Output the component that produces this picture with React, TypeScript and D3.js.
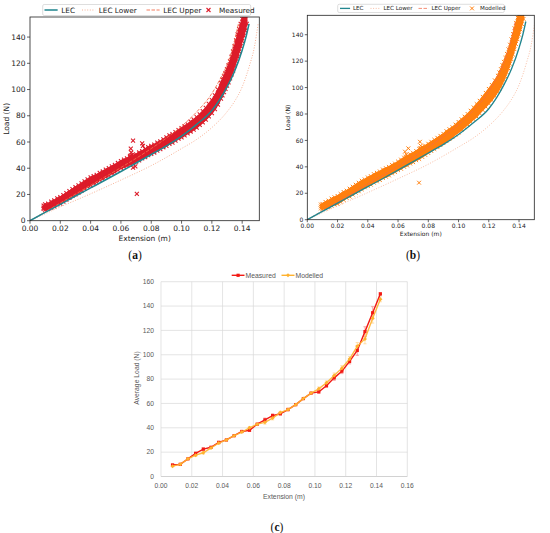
import React from "react";
import * as d3 from "d3";

// ---------- Data: panels (a) & (b) ----------
const lecCurve: [number, number][] = [
  [0, 0], [0.01, 6.3], [0.02, 12.5], [0.03, 18.8], [0.04, 25], [0.05, 31.2], [0.06, 37.5],
  [0.07, 44], [0.08, 50.5], [0.09, 57], [0.1, 64.5], [0.11, 73.5], [0.12, 84], [0.125, 92],
  [0.13, 102], [0.135, 114], [0.14, 130], [0.1425, 140], [0.1445, 150],
];
const lecLower: [number, number][] = [
  [0, 0], [0.02, 10.5], [0.04, 20.5], [0.06, 31], [0.08, 42], [0.1, 55], [0.11, 62], [0.12, 71],
  [0.13, 83], [0.135, 91], [0.14, 102], [0.145, 119], [0.148, 132], [0.1505, 150],
];
const lecUpper: [number, number][] = [
  [0, 0], [0.02, 13.5], [0.04, 27], [0.06, 40.5], [0.08, 55], [0.09, 63], [0.1, 72], [0.11, 83],
  [0.12, 97], [0.125, 107], [0.13, 119], [0.133, 129], [0.1355, 140], [0.1375, 150],
];

// rows: [extension, load values observed at that extension...]
const measuredRows: number[][] = [
  [0.009, 9, 10, 11.5], [0.01, 8.5, 10.5, 12.5], [0.012, 9, 11, 13], [0.014, 10, 12, 14.5],
  [0.016, 11, 13.5, 15.5], [0.018, 12.5, 14.5, 17], [0.02, 13, 15.5, 18], [0.022, 14.5, 17, 19.5],
  [0.024, 16, 18.5, 21], [0.026, 17.5, 20, 22.5], [0.028, 19, 21.5, 24], [0.03, 20, 23, 25.5],
  [0.032, 21.5, 24.5, 27], [0.034, 23, 26, 28.5], [0.036, 24.5, 27.5, 30], [0.038, 26, 29, 31.5],
  [0.04, 27, 30, 33], [0.042, 28.5, 31.5, 34], [0.044, 29.5, 32.5, 35], [0.046, 31, 34, 36.5],
  [0.048, 32, 35, 37.5], [0.05, 33.5, 36.5, 39], [0.052, 34.5, 37.5, 40], [0.054, 36, 39, 41.5],
  [0.056, 37, 40, 42.5], [0.058, 38.5, 41.5, 44], [0.06, 40, 43, 45.5], [0.062, 41, 44, 46.5],
  [0.064, 42, 45, 47.5], [0.066, 43, 46, 48.5], [0.068, 44, 47, 49.5], [0.07, 45, 48, 50.5],
  [0.072, 46, 49, 52], [0.074, 47.5, 50.5, 53], [0.076, 48.5, 51.5, 54.5], [0.078, 50, 53, 56],
  [0.08, 51, 54, 57], [0.082, 52, 55, 58], [0.084, 53.5, 56.5, 59.5], [0.086, 54.5, 57.5, 60.5],
  [0.088, 56, 59, 62], [0.09, 57, 60, 63.5], [0.092, 58.5, 61.5, 65], [0.094, 59.5, 62.5, 66],
  [0.096, 61, 64, 67.5], [0.098, 62.5, 65.5, 69], [0.1, 63.5, 67, 70.5], [0.102, 65, 68.5, 72],
  [0.104, 66.5, 70, 73.5], [0.106, 68, 71.5, 75.5], [0.108, 69.5, 73, 77], [0.11, 71, 75, 79],
  [0.112, 73, 77, 81], [0.114, 75, 79, 83.5], [0.116, 77, 81, 86], [0.118, 79.5, 84, 89],
  [0.12, 82, 87, 92], [0.122, 85, 90, 95.5], [0.124, 88.5, 94, 100], [0.126, 93, 99, 105],
  [0.127, 95.5, 101.5, 107.5], [0.128, 98, 104, 110], [0.129, 100.5, 106.5, 112.5], [0.13, 103, 109, 115.5],
  [0.131, 105.5, 112, 118.5], [0.132, 108.5, 115, 121.5], [0.133, 111.5, 118, 125], [0.134, 114.5, 121.5, 129],
  [0.135, 118, 125.5, 133], [0.136, 121.5, 129.5, 137.5], [0.137, 125, 133.5, 142], [0.138, 129, 137.5, 146],
  [0.139, 133, 141.5, 150], [0.14, 137, 145.5, 154], [0.141, 141, 149.5, 158], [0.142, 145, 153.5, 162],
  [0.143, 150, 157, 163],
];
const measuredOutliers: [number, number][] = [
  [0.0665, 55], [0.0668, 52], [0.0672, 50], [0.068, 61], [0.0675, 48.5], [0.068, 40.5],
  [0.0695, 41.5], [0.074, 59], [0.0745, 57], [0.0705, 20.5], [0.066, 49.5],
];

const modelledRows: number[][] = [
  [0.009, 8.5, 10, 11.5], [0.01, 8, 10, 12], [0.012, 8.5, 11, 13.5], [0.014, 9.5, 12, 14.5],
  [0.016, 10.5, 13, 16], [0.018, 11.5, 14, 17], [0.02, 12, 14.5, 18], [0.022, 13.5, 16.5, 19.5],
  [0.024, 15, 18, 21], [0.026, 16.5, 19.5, 22], [0.028, 17.5, 20.5, 23.5], [0.03, 19, 22, 25],
  [0.032, 20.5, 23.5, 26.5], [0.034, 21.5, 25, 28], [0.036, 23, 26, 29.5], [0.038, 24.5, 27.5, 30.5],
  [0.04, 25.5, 29, 32], [0.042, 26.5, 30, 33], [0.044, 28, 31, 34.5], [0.046, 29, 32.5, 35.5],
  [0.048, 30, 33.5, 36.5], [0.05, 31.5, 35, 38], [0.052, 32.5, 36, 39], [0.054, 33.5, 37, 40],
  [0.056, 35, 38.5, 41.5], [0.058, 36, 39.5, 42.5], [0.06, 37.5, 41, 44], [0.062, 38.5, 42, 45.5],
  [0.064, 40, 43.5, 47], [0.066, 41, 44.5, 48], [0.068, 42.5, 46, 49.5], [0.07, 43.5, 47, 50.5],
  [0.072, 45, 48.5, 52], [0.074, 46, 49.5, 53.5], [0.076, 47.5, 51, 55], [0.078, 49, 52.5, 56],
  [0.08, 50.5, 54, 57.5], [0.082, 52, 55.5, 59], [0.084, 53.5, 57, 60.5], [0.086, 55, 58.5, 62],
  [0.088, 56.5, 60, 63.5], [0.09, 58, 61.5, 65], [0.092, 59.5, 63, 67], [0.094, 61, 64.5, 68.5],
  [0.096, 62.5, 66.5, 70], [0.098, 64.5, 68, 72], [0.1, 66, 70, 74], [0.102, 68, 72, 76],
  [0.104, 70, 74, 78], [0.106, 72, 76, 80], [0.108, 74, 78, 82.5], [0.11, 76, 80, 85],
  [0.112, 78, 82.5, 87.5], [0.114, 80.5, 85, 90], [0.116, 83, 87.5, 93], [0.118, 85.5, 90, 96],
  [0.12, 88, 93, 99], [0.122, 90.5, 96, 102], [0.124, 93.5, 99, 105.5], [0.126, 97, 103, 109],
  [0.127, 99, 105, 111.5], [0.128, 101, 107.5, 114], [0.129, 103.5, 110, 117], [0.13, 106, 112.5, 119.5],
  [0.131, 108.5, 115, 122.5], [0.132, 111.5, 118, 125.5], [0.133, 114.5, 121.5, 129], [0.134, 118, 125, 132.5],
  [0.135, 121.5, 129, 136.5], [0.136, 125, 133, 140.5], [0.137, 129, 137, 145], [0.138, 133, 141, 149],
  [0.139, 136.5, 144.5, 153], [0.14, 140, 148, 157], [0.141, 144, 152, 160], [0.142, 148, 156, 162],
  [0.143, 152, 159, 163],
];
const modelledOutliers: [number, number][] = [
  [0.0646, 51.5], [0.0668, 54], [0.065, 47.5], [0.0655, 49.5], [0.0745, 59], [0.075, 56],
  [0.0748, 54], [0.0739, 28],
];

const xTicksAB = [0, 0.02, 0.04, 0.06, 0.08, 0.1, 0.12, 0.14];
const yTicksAB = [0, 20, 40, 60, 80, 100, 120, 140];

// ---------- Data: panel (c) ----------
const avgExtension = [
  0.0075, 0.0125, 0.0175, 0.0225, 0.0275, 0.0325, 0.0375, 0.0425, 0.0475, 0.0525, 0.0575, 0.0625,
  0.0675, 0.0725, 0.0775, 0.0825, 0.0875, 0.0925, 0.0975, 0.1025, 0.1075, 0.1125, 0.1175, 0.1225,
  0.1275, 0.1325, 0.1375, 0.1425,
];
const avgMeasured = [
  9.5, 10, 14.5, 19, 22.5, 24, 28, 30, 33.5, 37, 38, 43, 46.5, 50, 51.5, 55, 59, 64, 68.5, 69.5,
  74.5, 81, 86.5, 94.5, 103.5, 119, 134.5, 150,
];
const avgModelled = [
  8.5, 10, 14.5, 17.5, 19.5, 23.5, 27.5, 30, 33.5, 36.5, 40, 43, 44.5, 48, 52.5, 55, 59, 64, 68.5,
  72, 77, 83, 89, 96.5, 107, 113, 130, 145.5,
];
const errMeasured = [
  0.5, 0.5, 0.5, 1, 1, 0.5, 1, 0.5, 0.5, 0.5, 1, 0.5, 1.5, 1.5, 1, 1, 0.5, 0.5, 0.5, 1, 1, 2, 2,
  2, 4, 4, 5, 1,
];
const errModelled = [
  0.5, 0.5, 0.5, 1, 1, 0.5, 1, 0.5, 0.5, 0.5, 1, 0.5, 1.5, 1.5, 1, 1, 0.5, 0.5, 0.5, 1.5, 1.5, 2,
  2, 2, 3, 4, 4, 2,
];
const xTicksC = [0, 0.02, 0.04, 0.06, 0.08, 0.1, 0.12, 0.14, 0.16];
const yTicksC = [0, 20, 40, 60, 80, 100, 120, 140, 160];

// ---------- Styles ----------
const C_LEC = "#22868f";
const C_LOWER = "#f6a98a";
const C_UPPER = "#f26b4a";

type Cfg = {
  id: string;
  left: number; right: number; top: number; bottom: number;
  xMax: number; yMax: number;
  tickFont: number; labelFont: number; tickLen: number;
  xLabY: number; yLabX: number; tickLabelDy: number; tickLabelDx: number;
  legend: { x0: number; x1: number; y0: number; y1: number; font: number; items: number[] };
  ms: number; mw: number; lw: number;
  panelLabel: string; panelX: number; panelY: number;
};

const xPath = (s: number) => `M${-s},${-s}L${s},${s}M${-s},${s}L${s},${-s}`;

function Panel({ cfg, rows, outliers, color, scatterLabel }: {
  cfg: Cfg; rows: number[][]; outliers: [number, number][]; color: string; scatterLabel: string;
}) {
  const x = d3.scaleLinear().domain([0, cfg.xMax]).range([cfg.left, cfg.right]);
  const y = d3.scaleLinear().domain([0, cfg.yMax]).range([cfg.bottom, cfg.top]);
  const line = d3.line<[number, number]>().x((d) => x(d[0])).y((d) => y(d[1])).curve(d3.curveMonotoneX);
  const band = d3.area<number[]>()
    .x((r) => x(r[0]))
    .y0((r) => y(Math.min(...r.slice(1))))
    .y1((r) => y(Math.max(...r.slice(1))));
  const pts: [number, number][] = [];
  rows.forEach((r) => r.slice(1).forEach((v) => pts.push([r[0], v])));
  outliers.forEach((p) => pts.push(p));
  const font = "DejaVu Sans, sans-serif";
  const L = cfg.legend;
  const ly = (L.y0 + L.y1) / 2;
  const [i1, i2, i3, i4] = L.items;
  return (
    <g>
      <defs>
        <clipPath id={`clip-${cfg.id}`}>
          <rect x={cfg.left} y={cfg.top} width={cfg.right - cfg.left} height={cfg.bottom - cfg.top} />
        </clipPath>
      </defs>
      <g clipPath={`url(#clip-${cfg.id})`}>
        <path d={band(rows) || ""} fill={color} stroke={color} strokeWidth={1.5} strokeLinejoin="round" />
        {pts.map((p, i) => (
          <path key={i} d={xPath(cfg.ms)} transform={`translate(${x(p[0])},${y(p[1])})`}
            stroke={color} strokeWidth={cfg.mw} fill="none" />
        ))}
        <path d={line(lecLower) || ""} fill="none" stroke={C_LOWER} strokeWidth={cfg.lw * 0.8} strokeDasharray="1,1.6" />
        <path d={line(lecUpper) || ""} fill="none" stroke={C_UPPER} strokeWidth={cfg.lw * 0.8} strokeDasharray="3.5,1.5" />
        <path d={line(lecCurve) || ""} fill="none" stroke={C_LEC} strokeWidth={cfg.lw * 1.4} />
      </g>
      <rect x={cfg.left} y={cfg.top} width={cfg.right - cfg.left} height={cfg.bottom - cfg.top}
        fill="none" stroke="#222" strokeWidth={0.8} />
      {xTicksAB.map((t) => (
        <g key={t}>
          <line x1={x(t)} x2={x(t)} y1={cfg.bottom} y2={cfg.bottom + cfg.tickLen} stroke="#222" strokeWidth={0.7} />
          <text x={x(t)} y={cfg.bottom + cfg.tickLabelDy} fontSize={cfg.tickFont} fontFamily={font}
            textAnchor="middle" fill="#222">{t.toFixed(2)}</text>
        </g>
      ))}
      {yTicksAB.map((t) => (
        <g key={t}>
          <line x1={cfg.left - cfg.tickLen} x2={cfg.left} y1={y(t)} y2={y(t)} stroke="#222" strokeWidth={0.7} />
          <text x={cfg.left - cfg.tickLabelDx} y={y(t)} dy="0.35em" fontSize={cfg.tickFont} fontFamily={font}
            textAnchor="end" fill="#222">{t}</text>
        </g>
      ))}
      <text x={(cfg.left + cfg.right) / 2} y={cfg.xLabY} fontSize={cfg.labelFont} fontFamily={font}
        textAnchor="middle" fill="#222">Extension (m)</text>
      <text transform={`translate(${cfg.yLabX},${(cfg.top + cfg.bottom) / 2}) rotate(-90)`} fontSize={cfg.labelFont}
        fontFamily={font} textAnchor="middle" fill="#222">Load (N)</text>
      {/* legend */}
      <rect x={L.x0} y={L.y0} width={L.x1 - L.x0} height={L.y1 - L.y0} rx={1.5} fill="#fff" fillOpacity={0.9}
        stroke="#d0d0d0" strokeWidth={0.7} />
      <line x1={i1} x2={i1 + L.font * 1.8} y1={ly} y2={ly} stroke={C_LEC} strokeWidth={cfg.lw * 1.4} />
      <text x={i1 + L.font * 2.3} y={ly} dy="0.35em" fontSize={L.font} fontFamily={font} fill="#222">LEC</text>
      <line x1={i2} x2={i2 + L.font * 1.8} y1={ly} y2={ly} stroke={C_LOWER} strokeWidth={cfg.lw * 0.8} strokeDasharray="1,1.6" />
      <text x={i2 + L.font * 2.3} y={ly} dy="0.35em" fontSize={L.font} fontFamily={font} fill="#222">LEC Lower</text>
      <line x1={i3} x2={i3 + L.font * 1.8} y1={ly} y2={ly} stroke={C_UPPER} strokeWidth={cfg.lw * 0.8} strokeDasharray="3.5,1.5" />
      <text x={i3 + L.font * 2.3} y={ly} dy="0.35em" fontSize={L.font} fontFamily={font} fill="#222">LEC Upper</text>
      <path d={xPath(cfg.ms)} transform={`translate(${i4},${ly})`} stroke={color} strokeWidth={cfg.mw} fill="none" />
      <text x={i4 + L.font * 1.45} y={ly} dy="0.35em" fontSize={L.font} fontFamily={font} fill="#222">{scatterLabel}</text>
      <text x={cfg.panelX} y={cfg.panelY} fontSize={11.5} fontFamily="Liberation Serif, serif" textAnchor="middle" fill="#111">
        (<tspan fontWeight="bold">{cfg.panelLabel}</tspan>)
      </text>
    </g>
  );
}

const cfgA: Cfg = {
  id: "a", left: 30, right: 259.3, top: 17, bottom: 220.7, xMax: 0.1513, yMax: 155.3,
  tickFont: 7.5, labelFont: 7.5, tickLen: 3, xLabY: 241, yLabX: 8.5, tickLabelDy: 10.3, tickLabelDx: 4.5,
  legend: { x0: 42.7, x1: 250.7, y0: 4.5, y1: 15.5, font: 7.3, items: [44.5, 82, 146.5, 208.5] },
  ms: 2.0, mw: 1.1, lw: 1.1,
  panelLabel: "a", panelX: 135, panelY: 259,
};
const cfgB: Cfg = {
  id: "b", left: 307.3, right: 534.3, top: 15.3, bottom: 219.7, xMax: 0.1501, yMax: 154.7,
  tickFont: 6, labelFont: 6, tickLen: 2.5, xLabY: 235.5, yLabX: 289.8, tickLabelDy: 8.6, tickLabelDx: 4,
  legend: { x0: 337.7, x1: 504.3, y0: 4.3, y1: 12.5, font: 5.6, items: [340, 370.5, 418.5, 472] },
  ms: 1.9, mw: 1.0, lw: 0.95,
  panelLabel: "b", panelX: 413, panelY: 259,
};

function PanelC() {
  const x = d3.scaleLinear().domain([0, 0.16]).range([161, 407.3]);
  const y = d3.scaleLinear().domain([0, 160]).range([476.5, 281.7]);
  const font = "Liberation Sans, Arial, sans-serif";
  const gray = "#595959";
  const line = d3.line<number>().x((_, i) => x(avgExtension[i])).y((d) => y(d));
  const cMeas = "#f21a14";
  const cMod = "#ffb22e";
  const errBars = (vals: number[], errs: number[], col: string, key: string) =>
    vals.map((v, i) => {
      const cx = x(avgExtension[i]);
      const e = errs[i];
      return (
        <g key={key + i} stroke={col} strokeWidth={0.7}>
          <line x1={cx} x2={cx} y1={y(v - e)} y2={y(v + e)} />
          <line x1={cx - 1.6} x2={cx + 1.6} y1={y(v - e)} y2={y(v - e)} />
          <line x1={cx - 1.6} x2={cx + 1.6} y1={y(v + e)} y2={y(v + e)} />
        </g>
      );
    });
  const diamond = (cx: number, cy: number, s: number) => `M${cx},${cy - s}L${cx + s},${cy}L${cx},${cy + s}L${cx - s},${cy}Z`;
  return (
    <g>
      {yTicksC.map((t) => (
        <g key={"gy" + t}>
          <line x1={x(0)} x2={x(0.16)} y1={y(t)} y2={y(t)} stroke={t === 0 ? "#bfbfbf" : "#d9d9d9"} strokeWidth={0.7} />
          <text x={x(0) - 7} y={y(t)} dy="0.35em" fontSize={6.7} fontFamily={font} fill={gray} textAnchor="end">{t}</text>
        </g>
      ))}
      {xTicksC.map((t) => (
        <g key={"gx" + t}>
          <line x1={x(t)} x2={x(t)} y1={y(0)} y2={y(160)} stroke="#d9d9d9" strokeWidth={0.7} />
          <text x={x(t)} y={487.8} fontSize={6.7} fontFamily={font} fill={gray} textAnchor="middle">{t.toFixed(2)}</text>
        </g>
      ))}
      <text x={284} y={498.8} fontSize={6.8} fontFamily={font} fill={gray} textAnchor="middle">Extension (m)</text>
      <text transform={`translate(138.5,378) rotate(-90)`} fontSize={6.8} fontFamily={font} fill={gray} textAnchor="middle">
        Average Load (N)
      </text>
      {errBars(avgMeasured, errMeasured, "#f58a8a", "em")}
      {errBars(avgModelled, errModelled, "#ffd28a", "eo")}
      <path d={line(avgMeasured) || ""} fill="none" stroke={cMeas} strokeWidth={1.4} />
      {avgMeasured.map((v, i) => (
        <rect key={"m" + i} x={x(avgExtension[i]) - 1.6} y={y(v) - 1.6} width={3.2} height={3.2} fill={cMeas} />
      ))}
      <path d={line(avgModelled) || ""} fill="none" stroke={cMod} strokeWidth={1.4} strokeOpacity={0.9} />
      {avgModelled.map((v, i) => (
        <path key={"o" + i} d={diamond(x(avgExtension[i]), y(v), 2)} fill={cMod} />
      ))}
      {/* legend */}
      <line x1={231.7} x2={244.5} y1={275.3} y2={275.3} stroke={cMeas} strokeWidth={1.4} />
      <rect x={236.5} y={273.7} width={3.2} height={3.2} fill={cMeas} />
      <text x={245.5} y={275.3} dy="0.35em" fontSize={6.8} fontFamily={font} fill={gray}>Measured</text>
      <line x1={281.5} x2={294.5} y1={275.3} y2={275.3} stroke={cMod} strokeWidth={1.4} />
      <path d={diamond(288, 275.3, 2)} fill={cMod} />
      <text x={295.5} y={275.3} dy="0.35em" fontSize={6.8} fontFamily={font} fill={gray}>Modelled</text>
      <text x={277} y={531} fontSize={11.5} fontFamily="Liberation Serif, serif" textAnchor="middle" fill="#111">
        (<tspan fontWeight="bold">c</tspan>)
      </text>
    </g>
  );
}

export default function App() {
  return (
    <svg width={550} height={533} viewBox="0 0 550 533"
      style={{ position: "absolute", left: 0, top: 0, background: "#fff" }}>
      <rect x={0} y={0} width={550} height={533} fill="#fff" />
      <Panel cfg={cfgA} rows={measuredRows} outliers={measuredOutliers} color="#dc1c2a" scatterLabel="Measured" />
      <Panel cfg={cfgB} rows={modelledRows} outliers={modelledOutliers} color="#ff7f0e" scatterLabel="Modelled" />
      <PanelC />
    </svg>
  );
}
